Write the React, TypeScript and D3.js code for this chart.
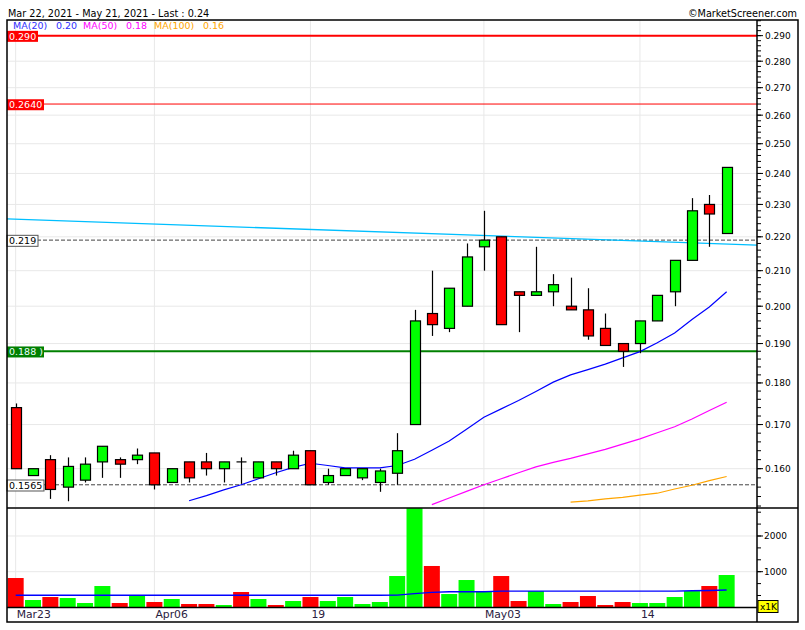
import React from "react";
import * as d3 from "d3";

// ---- data ----
const opens = [0.174,0.1585,0.162,0.156,0.1575,0.1615,0.162,0.162,0.1635,0.157,0.1615,0.1615,0.16,0.1615,0.158,0.1615,0.16,0.164,0.157,0.1585,0.158,0.157,0.159,0.17,0.198,0.194,0.2,0.217,0.22,0.204,0.203,0.204,0.2,0.199,0.194,0.19,0.19,0.196,0.204,0.213,0.23,0.221];
const highs = [0.175,0.16,0.163,0.1625,0.1625,0.165,0.1625,0.1645,0.1635,0.16,0.1615,0.1635,0.1615,0.1625,0.1615,0.1615,0.164,0.164,0.16,0.16,0.16,0.16,0.168,0.199,0.21,0.205,0.218,0.228,0.22,0.204,0.217,0.209,0.208,0.205,0.198,0.19,0.196,0.203,0.213,0.232,0.233,0.242];
const lows = [0.16,0.1585,0.1535,0.153,0.157,0.158,0.158,0.161,0.1555,0.157,0.157,0.1585,0.157,0.1567,0.158,0.1585,0.16,0.1565,0.1565,0.1585,0.1575,0.155,0.1565,0.17,0.192,0.193,0.2,0.21,0.195,0.193,0.203,0.2,0.199,0.191,0.1895,0.184,0.1875,0.196,0.2,0.213,0.217,0.221];
const closes = [0.16,0.16,0.1555,0.1605,0.161,0.165,0.161,0.163,0.1565,0.16,0.158,0.16,0.1615,0.1615,0.1615,0.16,0.163,0.1565,0.1585,0.16,0.16,0.1595,0.164,0.196,0.195,0.205,0.214,0.219,0.195,0.203,0.204,0.206,0.199,0.192,0.1895,0.188,0.196,0.203,0.213,0.228,0.227,0.242];
const volumes = [823,207,291,263,123,599,123,339,151,235,95,95,67,431,235,67,179,291,179,291,95,151,879,2780,1160,375,767,459,879,179,459,95,151,319,67,151,123,123,291,459,599,907];
const volumeAvg = [339,339,339,339,339,339,339,339,339,339,339,339,339,339,339,339,339,339,339,339,339,339,345,385,420,440,440,440,455,455,455,455,455,455,455,455,455,455,455,465,475,487];
const ma20Start = 10;
const ma20 = [0.1531,0.1542,0.1554,0.1565,0.1578,0.1591,0.1603,0.1612,0.1607,0.1602,0.1602,0.1602,0.1607,0.1621,0.1641,0.1662,0.1689,0.1717,0.1737,0.1757,0.1779,0.1802,0.182,0.1833,0.1847,0.1863,0.1879,0.1902,0.1928,0.1964,0.1998,0.204];
const ma50Start = 24;
const ma50 = [0.1523,0.1537,0.1551,0.1565,0.1578,0.1591,0.1604,0.1614,0.1623,0.1633,0.1643,0.1655,0.1667,0.1681,0.1695,0.1713,0.1733,0.1753];
const ma100Start = 32;
const ma100 = [0.1528,0.1531,0.1535,0.1538,0.1543,0.1547,0.1556,0.1564,0.1574,0.1583];
const trendIdx = [-0.5, 42.75];
const trendVals = [0.2255, 0.2175];
const xTickIdx = [0, 8, 17, 27, 36];
const xTickLabels = ["Mar23", "Apr06", "19", "May03", "14"];
const priceTicks = [0.16,0.17,0.18,0.19,0.2,0.21,0.22,0.23,0.24,0.25,0.26,0.27,0.28,0.29];
const volTicks = [1000, 2000];
const legendNames = ["MA(20)", "MA(50)", "MA(100)"];
const legendVals = ["0.20", "0.18", "0.16"];
const legendColors = ["#3030ff", "#ff00ff", "#ffa500"];
const title = "Mar 22, 2021 - May 21, 2021 - Last : 0.24";
const credit = "©MarketScreener.com";

const FONT = "'DejaVu Sans', Verdana, sans-serif";

export default function App() {
  const L = 7, R = 757, OR = 798, T = 20, PB = 507, VT = 508, VB = 607.4, B = 622;
  const x = d3.scaleLinear().domain([-0.5, 42.75]).range([L, R]);
  const y = d3.scaleLog().domain([0.1518, 0.2963]).range([PB, T]);
  const yv = d3.scaleLinear().domain([0, 2784]).range([VB, VT]).clamp(true);
  const bw = 10;
  const vbw = 16;

  const pLine = d3.line<[number, number]>().x(d => x(d[0])).y(d => y(d[1]));
  const vLine = d3.line<[number, number]>().x(d => x(d[0])).y(d => yv(d[1]));
  const series = (start: number, arr: number[]) => arr.map((v, i) => [start + i, v] as [number, number]);

  const minorPrice = d3.range(76, 149).map(k => k * 0.002).filter(v => y(v) >= T && y(v) <= PB);
  const minorVol = d3.range(1, 9).map(k => (k * 1000) / 3).filter(v => v <= 2784);

  const levelLines = [
    { v: 0.29, color: "#ff0000", w: 2, label: "0.290", boxW: 31, fill: "#ff0000", text: "#ffffff", dash: null },
    { v: 0.264, color: "#ff0000", w: 1, label: "0.2640", boxW: 37, fill: "#ff0000", text: "#ffffff", dash: null },
    { v: 0.188, color: "#008000", w: 2.2, label: "0.188 )", boxW: 37, fill: "#008000", text: "#eaffff", dash: null },
    { v: 0.219, color: "#444444", w: 1, label: "0.219", boxW: 31, fill: "#ffffff", text: "#000000", dash: "4,2" },
    { v: 0.1565, color: "#444444", w: 1, label: "0.1565", boxW: 37, fill: "#ffffff", text: "#000000", dash: "4,2" },
  ];

  const legendX = [13, 56, 83, 126, 154, 203];

  return (
    <svg width={805} height={630} style={{ position: "absolute", left: 0, top: 0, background: "#fff" }} fontFamily={FONT}>
      <defs>
        <clipPath id="pclip"><rect x={L} y={T} width={R - L} height={PB - T + 1} /></clipPath>
        <clipPath id="vclip"><rect x={L} y={VT} width={R - L} height={VB - VT} /></clipPath>
      </defs>
      <rect x={0} y={0} width={805} height={630} fill="#fff" />

      {/* grid */}
      {priceTicks.map(t => (
        <line key={"pg" + t} x1={L} x2={R} y1={y(t)} y2={y(t)} stroke="#e8e8e8" strokeWidth={1} />
      ))}
      {volTicks.map(t => (
        <line key={"vg" + t} x1={L} x2={R} y1={yv(t)} y2={yv(t)} stroke="#e8e8e8" strokeWidth={1} />
      ))}
      {xTickIdx.map(i => (
        <g key={"xg" + i}>
          <line x1={x(i)} x2={x(i)} y1={T} y2={PB} stroke="#e8e8e8" strokeWidth={1} />
          <line x1={x(i)} x2={x(i)} y1={VT} y2={VB} stroke="#e8e8e8" strokeWidth={1} />
        </g>
      ))}

      {/* price panel */}
      <g clipPath="url(#pclip)">
        {levelLines.map(l => (
          <line key={"lv" + l.v} x1={L} x2={R} y1={y(l.v)} y2={y(l.v)} stroke={l.color} strokeWidth={l.w}
            strokeDasharray={l.dash || undefined} />
        ))}
        <path d={pLine(trendIdx.map((t, i) => [t, trendVals[i]] as [number, number])) || ""} fill="none" stroke="#00bfff" strokeWidth={1.3} />
        <path d={pLine(series(ma100Start, ma100)) || ""} fill="none" stroke="#ffa500" strokeWidth={1.2} />
        <path d={pLine(series(ma50Start, ma50)) || ""} fill="none" stroke="#ff00ff" strokeWidth={1.2} />
        <path d={pLine(series(ma20Start, ma20)) || ""} fill="none" stroke="#0000ff" strokeWidth={1.2} />
        {opens.map((o, i) => {
          const c = closes[i];
          const cx = Math.round(x(i)) + 0.5;
          const top = y(Math.max(o, c));
          const bot = y(Math.min(o, c));
          const up = c > o;
          return (
            <g key={"c" + i}>
              <line x1={cx} x2={cx} y1={y(highs[i])} y2={y(lows[i])} stroke="#000" strokeWidth={1.2} />
              {bot - top < 0.5 ? (
                <line x1={cx - bw / 2} x2={cx + bw / 2} y1={top} y2={top} stroke="#000" strokeWidth={1.2} />
              ) : (
                <rect x={cx - bw / 2} y={top} width={bw} height={bot - top} fill={up ? "#00ff00" : "#ff0000"} stroke="#000" strokeWidth={1.2} />
              )}
            </g>
          );
        })}
      </g>

      {/* level labels */}
      {levelLines.map(l => (
        <g key={"lb" + l.v}>
          <rect x={L} y={y(l.v) - 4.8} width={l.boxW} height={11} fill={l.fill}
            stroke={l.fill === "#ffffff" ? "#555" : "none"} strokeWidth={1} />
          <text x={L + 2} y={y(l.v) + 4.2} fontSize={9.5} fill={l.text}>{l.label}</text>
        </g>
      ))}

      {/* volume panel */}
      <g clipPath="url(#vclip)">
        {volumes.map((v, i) => (
          <rect key={"v" + i} x={x(i) - vbw / 2} y={yv(v)} width={vbw} height={VB - yv(v)}
            fill={closes[i] > opens[i] ? "#00ff00" : "#ff0000"} />
        ))}
        <path d={vLine(volumeAvg.map((v, i) => [i, v] as [number, number])) || ""} fill="none" stroke="#0000ff" strokeWidth={1.4} />
      </g>

      {/* frame */}
      <rect x={L} y={T} width={OR - L} height={B - T} fill="none" stroke="#000" strokeWidth={1.5} />
      <line x1={L} x2={OR} y1={VT} y2={VT} stroke="#000" strokeWidth={1.5} />
      <line x1={L} x2={R} y1={VB} y2={VB} stroke="#000" strokeWidth={1.5} />
      <line x1={R} x2={R} y1={T} y2={B} stroke="#000" strokeWidth={1.5} />

      {/* price axis */}
      {minorPrice.map(v => (
        <line key={"mp" + v} x1={R} x2={R + 4} y1={y(v)} y2={y(v)} stroke="#000" strokeWidth={1} />
      ))}
      {priceTicks.map(t => (
        <g key={"pt" + t}>
          <line x1={R} x2={R + 6} y1={y(t)} y2={y(t)} stroke="#000" strokeWidth={1} />
          <text x={R + 8} y={y(t) + 3.5} fontSize={9} fill="#000">{d3.format(".3f")(t)}</text>
        </g>
      ))}

      {/* volume axis */}
      {minorVol.map(v => (
        <line key={"mv" + v} x1={R} x2={R + 4} y1={yv(v)} y2={yv(v)} stroke="#000" strokeWidth={1} />
      ))}
      {volTicks.map(t => (
        <g key={"vt" + t}>
          <line x1={R} x2={R + 6} y1={yv(t)} y2={yv(t)} stroke="#000" strokeWidth={1} />
          <text x={R + 7} y={yv(t) + 3.5} fontSize={9} fill="#000">{t}</text>
        </g>
      ))}
      <rect x={R + 1} y={600.5} width={20} height={12} fill="#ffff00" stroke="#000" strokeWidth={1} />
      <text x={R + 3} y={610} fontSize={9} fill="#000">x1K</text>

      {/* x axis labels */}
      {xTickIdx.map((i, k) => (
        <text key={"xl" + i} x={x(i) + 1} y={618} fontSize={10.8} fill="#2a2040">{xTickLabels[k]}</text>
      ))}

      {/* header */}
      <text x={8} y={17} fontSize={9.7} fill="#000">{title}</text>
      <text x={797} y={17} fontSize={9.7} fill="#000" textAnchor="end">{credit}</text>
      {legendNames.map((n, k) => (
        <g key={"lg" + k}>
          <text x={legendX[k * 2]} y={29.3} fontSize={9.5} fill={legendColors[k]}>{n}</text>
          <text x={legendX[k * 2 + 1]} y={29.3} fontSize={9.5} fill={legendColors[k]}>{legendVals[k]}</text>
        </g>
      ))}
    </svg>
  );
}
